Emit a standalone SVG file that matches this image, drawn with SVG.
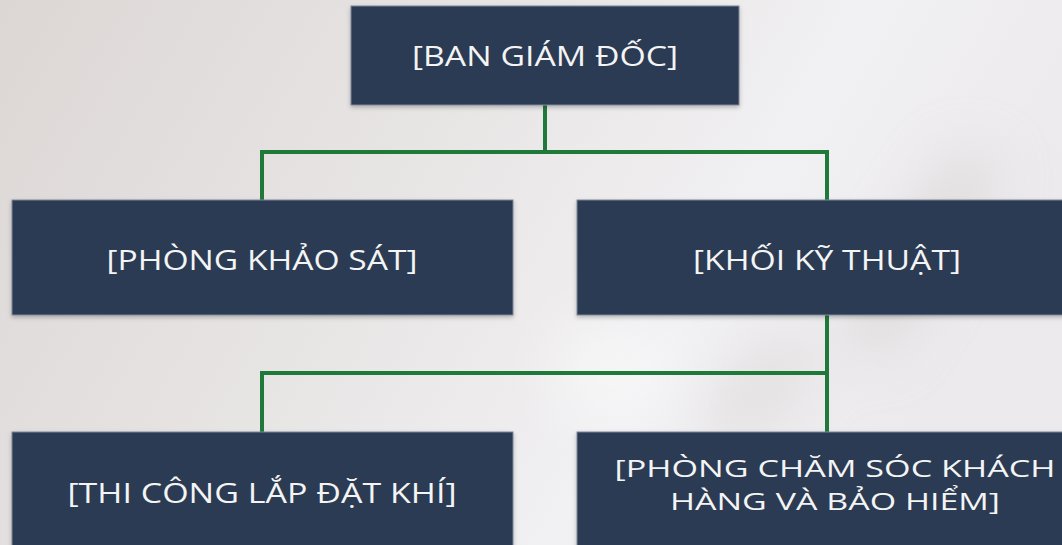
<svg xmlns="http://www.w3.org/2000/svg" width="1062" height="545" viewBox="0 0 1062 545">
  <defs>
    <linearGradient id="bg" x1="0" y1="0" x2="1" y2="0.3">
      <stop offset="0" stop-color="#dcd7d5"/>
      <stop offset="0.45" stop-color="#e8e5e5"/>
      <stop offset="0.75" stop-color="#f1f0f2"/>
      <stop offset="1" stop-color="#eceaec"/>
    </linearGradient>
    <filter id="blur" x="-50%" y="-50%" width="200%" height="200%">
      <feGaussianBlur stdDeviation="30"/>
    </filter>
    <filter id="sh" x="-10%" y="-10%" width="120%" height="130%">
      <feDropShadow dx="0" dy="2" stdDeviation="2" flood-color="#000" flood-opacity="0.25"/>
    </filter>
  </defs>
  <style>
    .box { fill: #2b3b52; stroke: #7c8798; stroke-width: 1; filter: url(#sh); }
    .lbl { font-family: "Open Sans", "Noto Sans", "Liberation Sans", sans-serif; font-size: 28px; fill: #f4f4f4; text-anchor: middle; }
    .sm { font-size: 24.5px; }
    .conn { stroke: #1f7a3a; stroke-width: 4; fill: none; }
  </style>
  <rect x="0" y="0" width="1062" height="545" fill="url(#bg)"/>
  <g filter="url(#blur)" opacity="0.5">
    <path d="M840 330 L960 150 L1000 170 L880 360 Z" fill="#c9c4c4"/>
    <path d="M700 420 L780 330 L820 360 L740 450 Z" fill="#d2cdcd"/>
    <rect x="560" y="330" width="100" height="80" fill="#ffffff"/>
  </g>

  <g id="connectors">
    <path class="conn" d="M545 105 V152 M262 152 H827 M262 150 V200 M827 150 V200"/>
    <path class="conn" d="M827 315 V432 M262 373 H829 M262 371 V432"/>
  </g>

  <g id="ban-giam-doc">
    <rect class="box" x="351" y="6" width="388" height="99"/>
    <text class="lbl" x="545" y="66" textLength="266" lengthAdjust="spacingAndGlyphs">[BAN GIÁM ĐỐC]</text>
  </g>
  <g id="phong-khao-sat">
    <rect class="box" x="12" y="200" width="501" height="115"/>
    <text class="lbl" x="262" y="270" textLength="311" lengthAdjust="spacingAndGlyphs">[PHÒNG KHẢO SÁT]</text>
  </g>
  <g id="khoi-ky-thuat">
    <rect class="box" x="577" y="200" width="501" height="115"/>
    <text class="lbl" x="827" y="270" textLength="268" lengthAdjust="spacingAndGlyphs">[KHỐI KỸ THUẬT]</text>
  </g>
  <g id="thi-cong">
    <rect class="box" x="12" y="432" width="501" height="130"/>
    <text class="lbl" x="262" y="503" textLength="389" lengthAdjust="spacingAndGlyphs">[THI CÔNG LẮP ĐẶT KHÍ]</text>
  </g>
  <g id="cham-soc">
    <rect class="box" x="577" y="432" width="501" height="130"/>
    <text class="lbl sm" x="835" y="476.5" textLength="441" lengthAdjust="spacingAndGlyphs">[PHÒNG CHĂM SÓC KHÁCH</text>
    <text class="lbl sm" x="835" y="510" textLength="330" lengthAdjust="spacingAndGlyphs">HÀNG VÀ BẢO HIỂM]</text>
  </g>
</svg>
